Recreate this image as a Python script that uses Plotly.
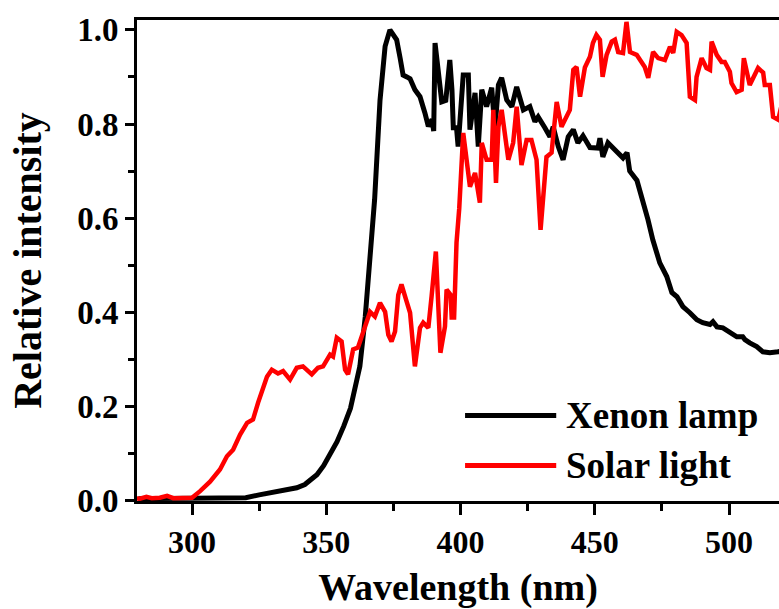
import plotly.graph_objects as go

# ---- data ----
xenon_wl = [280, 290, 300, 310, 316, 320, 325, 330, 335, 339, 342, 344, 346.5, 349, 351.5, 354, 356.5,
            359, 361.4, 362.5, 364.5, 366.3, 368, 370, 371.9, 373.7, 375, 376.2, 377.5, 378.6, 380, 381.2,
            383, 384.9, 386.7, 388, 389.4, 390, 390.5, 392.3, 393, 394.5, 396, 396.8, 397.3, 398.5, 399.1,
            401, 402.9, 403.5, 405.4, 406.6, 407.9, 409.7, 411.6, 412.8, 414.1, 415.3, 417.2, 419.1, 420.9,
            423.4, 425.8, 427.7, 428.9, 431.4, 433.3, 434.5, 436.4, 438.2, 440.1, 442, 443.7, 445.6, 448.2,
            451.2, 451.9, 453, 454.9, 458.2, 460.5, 462, 463, 465.7, 467.5, 469.8, 471.6, 474.2, 476.8,
            478.7, 480.6, 482.8, 485.4, 488, 490.2, 492.9, 494, 495.5, 497.7, 500.3, 502.9, 505.1, 505.9,
            507.7, 510.3, 512.6, 515.2, 518.2, 520]
xenon_int = [0.004, 0.004, 0.004, 0.004, 0.004, 0.006, 0.012, 0.017, 0.021, 0.027, 0.034, 0.042, 0.055,
             0.074, 0.097, 0.125, 0.158, 0.196, 0.257, 0.285, 0.39, 0.505, 0.64, 0.85, 0.965, 1.0, 0.99,
             0.979, 0.94, 0.904, 0.9, 0.896, 0.873, 0.858, 0.824, 0.795, 0.81, 0.785, 0.972, 0.894, 0.847,
             0.85, 0.936, 0.873, 0.792, 0.792, 0.752, 0.904, 0.904, 0.788, 0.866, 0.752, 0.873, 0.837,
             0.877, 0.788, 0.883, 0.898, 0.851, 0.837, 0.879, 0.83, 0.837, 0.805, 0.815, 0.792, 0.773,
             0.794, 0.752, 0.724, 0.773, 0.788, 0.76, 0.775, 0.75, 0.749, 0.77, 0.73, 0.76, 0.741, 0.728,
             0.739, 0.7, 0.68, 0.645, 0.597, 0.554, 0.505, 0.476, 0.442, 0.433, 0.412, 0.399, 0.384, 0.378,
             0.374, 0.38, 0.369, 0.367, 0.359, 0.348, 0.348, 0.342, 0.335, 0.327, 0.316, 0.314, 0.316, 0.318]

solar_wl = [278, 280.6, 283, 285, 288, 290.7, 293, 296, 300, 303, 306.7, 310.4, 313, 315.3, 317.9, 320.5,
            322.7, 324.6, 326.4, 327.9, 329.7, 332, 333.9, 336.5, 339, 341.3, 344.6, 346.9, 348.8, 351.4,
            352.5, 353.9, 355.7, 357, 358.1, 360, 361.8, 363.7, 366.3, 368.1, 370, 371.9, 373.1, 374.3,
            375.6, 376.8, 378, 379.9, 381.2, 383, 384.9, 386.1, 388, 389.2, 390.8, 392.5, 394.2, 394.8,
            396.3, 396.7, 397.6, 398.5, 399.5, 401, 403.5, 405.4, 407.2, 407.9, 409.7, 411.6, 412.2, 413.2,
            414.1, 415.3, 416.5, 417.8, 419.6, 420.9, 422.7, 424.6, 426.4, 428.3, 429.8, 432, 433.9, 435.8,
            437.6, 439.5, 440.7, 442, 443.2, 444.5, 446.3, 448.2, 449.3, 450.6, 451.9, 452.9, 454.4, 456.3,
            457.5, 458.7, 460.5, 461.8, 463.1, 465.6, 467.4, 468.6, 469.9, 471.7, 473.6, 476.1, 478, 479.2,
            480.5, 482.3, 484.2, 485.4, 487.3, 487.9, 489.8, 491.6, 492.9, 493.5, 495.4, 497.2, 498.4,
            500.3, 500.9, 502.8, 504.7, 505.5, 507.7, 509, 510.8, 512.7, 513.3, 515.2, 516.4, 518.3, 520]
solar_int = [0.005, 0.004, 0.008, 0.005, 0.006, 0.01, 0.005, 0.006, 0.006, 0.02, 0.04, 0.066, 0.094, 0.108,
             0.14, 0.165, 0.172, 0.208, 0.242, 0.263, 0.278, 0.27, 0.275, 0.257, 0.282, 0.285, 0.268, 0.282,
             0.285, 0.31, 0.306, 0.346, 0.338, 0.278, 0.268, 0.321, 0.325, 0.357, 0.401, 0.391, 0.42, 0.401,
             0.352, 0.338, 0.359, 0.437, 0.459, 0.423, 0.399, 0.285, 0.367, 0.378, 0.367, 0.433, 0.529,
             0.314, 0.37, 0.448, 0.437, 0.389, 0.389, 0.548, 0.62, 0.781, 0.667, 0.696, 0.633, 0.76, 0.724,
             0.724, 0.83, 0.675, 0.794, 0.83, 0.773, 0.724, 0.76, 0.837, 0.713, 0.766, 0.766, 0.724, 0.575,
             0.73, 0.739, 0.847, 0.794, 0.815, 0.83, 0.915, 0.921, 0.858, 0.92, 0.943, 0.972, 0.989, 0.979,
             0.9, 0.947, 0.975, 0.979, 0.953, 0.951, 1.017, 0.953, 0.947, 0.93, 0.921, 0.898, 0.953, 0.94,
             0.936, 0.964, 0.951, 0.996, 0.989, 0.972, 0.858, 0.851, 0.9, 0.94, 0.919, 0.915, 0.975, 0.947,
             0.932, 0.932, 0.911, 0.887, 0.868, 0.873, 0.94, 0.883, 0.9, 0.919, 0.909, 0.883, 0.883, 0.815,
             0.809, 0.85]

series_names = ["Xenon lamp", "Solar light"]
series_colors = ["#000000", "#ff0000"]

x_tickvals = [300, 350, 400, 450, 500]
y_tickvals = [0.0, 0.2, 0.4, 0.6, 0.8, 1.0]
y_ticktext = ["0.0", "0.2", "0.4", "0.6", "0.8", "1.0"]

FONT = "Liberation Serif"

fig = go.Figure()
fig.add_trace(go.Scatter(x=xenon_wl, y=xenon_int, mode="lines", name=series_names[0],
                         line=dict(color=series_colors[0], width=5), showlegend=False))
fig.add_trace(go.Scatter(x=solar_wl, y=solar_int, mode="lines", name=series_names[1],
                         line=dict(color=series_colors[1], width=4.5), showlegend=False))

# legend drawn as line samples + labels in paper coordinates
legend_rows = [(0.178, 0), (0.074, 1)]
for ypos, i in legend_rows:
    fig.add_shape(type="line", xref="paper", yref="paper", x0=0.511, x1=0.653, y0=ypos, y1=ypos,
                  line=dict(color=series_colors[i], width=5))
    fig.add_annotation(xref="paper", yref="paper", x=0.665, y=ypos, text=series_names[i],
                       showarrow=False, xanchor="left", yanchor="middle",
                       font=dict(family=FONT, size=37, color="black", weight="bold"))

fig.update_layout(
    width=779, height=609,
    margin=dict(l=137, r=0, t=20, b=108),
    paper_bgcolor="white", plot_bgcolor="white",
    font=dict(family=FONT, color="black", weight="bold"),
    showlegend=False,
)
fig.update_xaxes(
    range=[279.5, 518.6], tickvals=x_tickvals, ticks="outside", ticklen=11, tickwidth=3,
    tickcolor="black", showline=True, linewidth=3, linecolor="black", mirror=True,
    showgrid=False, zeroline=False,
    tickfont=dict(family=FONT, size=32, color="black", weight="bold"),
    minor=dict(dtick=25, tick0=275, ticks="outside", ticklen=7, tickwidth=3, tickcolor="black", showgrid=False),
    title=dict(text="Wavelength (nm)", standoff=16,
               font=dict(family=FONT, size=38, color="black", weight="bold")),
)
fig.update_yaxes(
    range=[-0.001, 1.021], tickvals=y_tickvals, ticktext=y_ticktext, ticks="outside", ticklen=9,
    tickwidth=3, tickcolor="black", showline=True, linewidth=3, linecolor="black", mirror=False,
    showgrid=False, zeroline=False,
    tickfont=dict(family=FONT, size=33, color="black", weight="bold"),
    minor=dict(dtick=0.1, tick0=0, ticks="outside", ticklen=6, tickwidth=3, tickcolor="black", showgrid=False),
    title=dict(text="Relative intensity", standoff=24,
               font=dict(family=FONT, size=40, color="black", weight="bold")),
)

fig.write_html("out.html")
